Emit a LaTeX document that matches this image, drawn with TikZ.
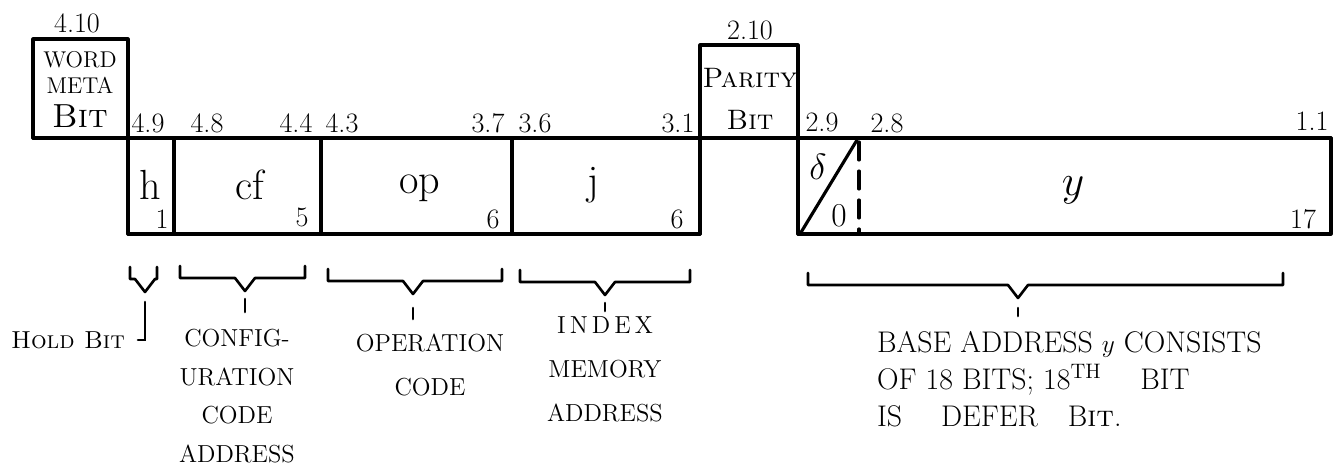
\documentclass[tikz,border=0pt]{standalone}
\usepackage{fontspec}
\usepackage{tikz}
\usetikzlibrary{positioning}

% hand-drawn field brace: left x, right x, tip x, line y, tip name
\newcommand{\bitbrace}[5]{%
  \draw[brace] (#1,#4-12) -- (#1,#4) -- (#3-10,#4) -- (#3,#4+13) coordinate (#5)
    -- (#3+10,#4) -- (#2,#4) -- (#2,#4-12);}

\begin{document}
\begin{tikzpicture}[
x=0.02cm, y=-0.02cm,
frame/.style={line width=1.8pt, line cap=round, line join=round},
brace/.style={line width=1.5pt, line join=round, line cap=round},
tick/.style={line width=1.5pt, line cap=round},
bitno/.style={font=\fontsize{16}{18}\selectfont, inner sep=1pt},
tag/.style={font=\fontsize{13}{15}\selectfont, inner sep=1pt},
fieldname/.style={font=\fontsize{24}{26}\selectfont, inner sep=1pt},
bitcount/.style={font=\fontsize{16}{18}\selectfont, inner sep=1pt},
fieldnote/.style={font=\fontsize{14}{22}\selectfont, align=center, inner sep=1pt}
]
\useasboundingbox (0,0) rectangle (1342,474);

% register frame
\draw[frame] (33,138) -- (1331,138);
\draw[frame] (128,234) -- (700,234);
\draw[frame] (798,234) -- (1331,234) -- (1331,138);
\draw[frame] (33,138) -- (33,39) -- (128,39) -- (128,234);
\foreach \x in {174,321,512}
  \draw[frame] (\x,138) -- (\x,234);
\draw[frame] (700,234) -- (700,45) -- (798,45) -- (798,234);
\draw[frame] (800,234) -- (857,140);
\draw[frame, dash pattern=on 0.36cm off 0.22cm] (859,142) -- (859,234);

% bit numbers
\foreach \x/\y/\n [count=\i] in {77/23/4.10, 148/123/4.9, 207/123/4.8, 296/123/4.4,
    342/123/4.3, 488/123/3.7, 535/123/3.6, 678/123/3.1, 750/30/2.10,
    822/122/2.9, 887/123/2.8, 1312/121/1.1}
  \node[bitno] (bit\i) at (\x,\y) {\n};

% marker bits
\node[tag] (word) at (80,60) {WORD};
\node[tag] (meta) at (80,85) {META};
\node[bitno, font=\fontsize{19}{21}\selectfont] (metabit) at (80,116) {\textsc{Bit}};
\node[bitno] (parity) at (750,78) {\textsc{Parity}};
\node[bitno] (paritybit) at (750,120) {\textsc{Bit}};

% field names
\node[fieldname] (h) at (150,185) {h};
\node[fieldname] (cf) at (250,185) {cf};
\node[fieldname] (op) at (420,188) {op};
\node[fieldname] (j) at (593,185) {j};
\node[fieldname, font=\fontsize{20}{22}\selectfont] (delta) at (818,167) {$\delta$};
\node[bitcount, font=\fontsize{19}{21}\selectfont] (zero) at (839,216) {0};
\node[fieldname] (y) at (1073,190) {$y$};

% field widths
\node[bitcount] (hw) at (162,219) {1};
\node[bitcount] (cfw) at (302,217) {5};
\node[bitcount] (opw) at (493,219) {6};
\node[bitcount] (jw) at (677,219) {6};
\node[bitcount] (yw) at (1303,219) {17};

% braces
\bitbrace{130}{157}{145}{279}{holdtip}
\bitbrace{180}{305}{245}{278}{cftip}
\bitbrace{328}{502}{413}{281}{optip}
\bitbrace{520}{690}{605}{282}{jtip}
\bitbrace{808}{1283}{1018}{285}{ytip}

% field descriptions
\node[fieldnote] (hold) at (68,340) {\textsc{Hold Bit}};
\node[fieldnote, anchor=north] (cfnote) at (237,327) {CONFIG-\\URATION\\CODE\\ADDRESS};
\node[fieldnote, anchor=north] (opnote) at (430,332) {OPERATION\\[3pt]CODE};
\node[fieldnote, anchor=north] (jnote) at (605,315)
  {I\,N\,D\,E\,X\\[3pt]MEMORY\\[3pt]ADDRESS};
\node[fieldnote, font=\fontsize{17}{21}\selectfont, anchor=north west, align=left]
  (ynote) at (875,329)
  {BASE ADDRESS {\Large$y$} CONSISTS\\
   OF 18 BITS; 18\textsuperscript{TH}\quad\ BIT\\
   IS\quad\ DEFER\quad B\textsc{it}.};

% pointers
\draw[tick] (holdtip) ++(0,10) |- ([xshift=0.22cm]hold.east);
\draw[tick] (cftip) ++(0,8) -- ++(0,13);
\draw[tick] (optip) ++(0,14) -- ++(0,11);
\draw[tick] (jtip) ++(0,8) -- ++(0,8);
\draw[tick] (ytip) ++(0,10) -- ++(0,8);
\end{tikzpicture}
\end{document}
